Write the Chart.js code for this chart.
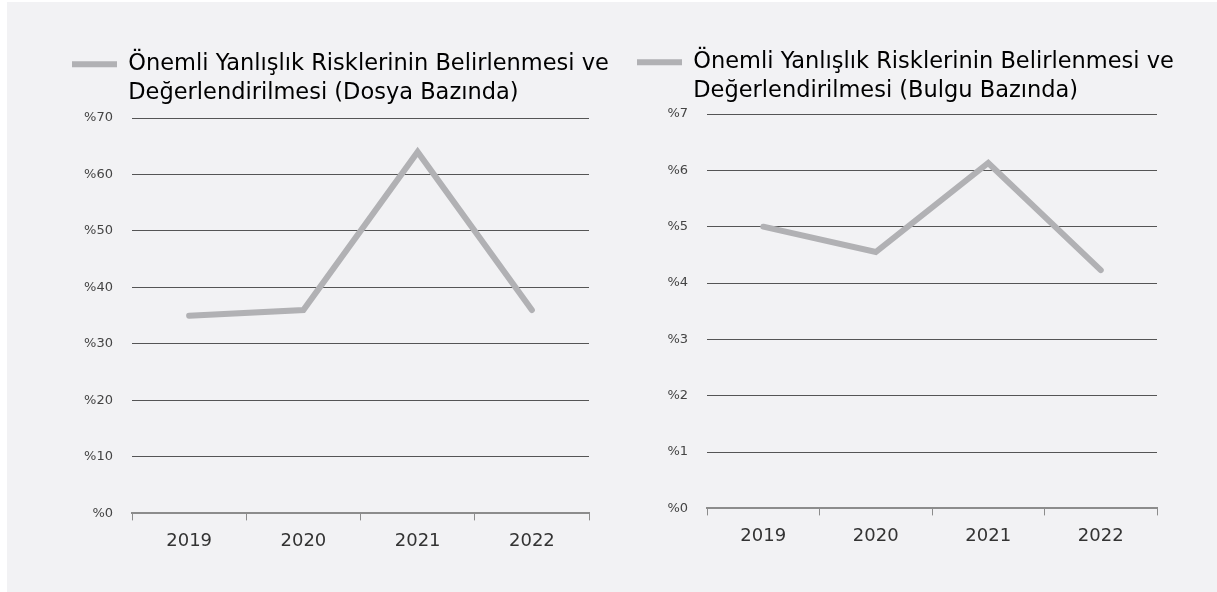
<!DOCTYPE html>
<html lang="tr">
<head>
  <meta charset="UTF-8">
  <title>Önemli Yanlışlık Riskleri</title>
  <style>
    html, body { margin: 0; padding: 0; background: #ffffff; }
    #page { position: absolute; left: 7px; top: 2px; width: 1210px; height: 590px; background: #f2f2f4; }
    .box { position: absolute; top: 0; height: 590px; }
    #box1 { left: 0; width: 610px; }
    #box2 { left: 610px; width: 600px; }
  </style>
</head>
<body>
  <div id="page">
    <div class="box" id="box1"><canvas id="chart1"></canvas></div>
    <div class="box" id="box2"><canvas id="chart2"></canvas></div>
  </div>

  <script src="https://cdn.jsdelivr.net/npm/chart.js"></script>
  <script>
    // data
    const years = ['2019', '2020', '2021', '2022'];
    const dosyaLabel = ['Önemli Yanlışlık Risklerinin Belirlenmesi ve', 'Değerlendirilmesi (Dosya Bazında)'];
    const dosyaValues = [35, 36, 64, 36];
    const bulguLabel = ['Önemli Yanlışlık Risklerinin Belirlenmesi ve', 'Değerlendirilmesi (Bulgu Bazında)'];
    const bulguValues = [5.0, 4.55, 6.13, 4.23];

    const FONT = 'DejaVu Sans';
    const lineColor = '#b1b1b4';

    // legend only measures one line, give it room for the second one,
    // and let it run past the plot's right edge
    const legendSpace = {
      id: 'legendSpace',
      afterInit(chart, args, opts) {
        const lg = chart.legend;
        if (!lg) return;
        const fit = lg.fit;
        lg.fit = function () {
          fit.call(this);
          this.height += opts.extra || 0;
        };
      },
      afterLayout(chart) {
        const lg = chart.legend;
        if (!lg) return;
        lg.right = chart.width;
        lg.width = chart.width - lg.left;
      }
    };

    function makeChart(id, label, values, yMax, yStep, yWidth, pad, extra) {
      const ctx = document.getElementById(id);
      return new Chart(ctx, {
        type: 'line',
        plugins: [legendSpace],
        data: {
          labels: years,
          datasets: [{
            label: label,
            data: values,
            borderColor: lineColor,
            backgroundColor: lineColor,
            borderWidth: 6,
            borderCapStyle: 'round',
            borderJoinStyle: 'miter',
            pointRadius: 0,
            tension: 0,
            fill: false
          }]
        },
        options: {
          responsive: true,
          maintainAspectRatio: false,
          animation: false,
          layout: { padding: pad },
          plugins: {
            tooltip: { enabled: false },
            legendSpace: { extra: extra },
            legend: {
              align: 'start',
              labels: {
                usePointStyle: true,
                pointStyle: 'line',
                pointStyleWidth: 45,
                color: '#333333',
                padding: 10,
                font: { family: FONT, size: 22.5, lineHeight: 1.29 },
                generateLabels: (chart) => [{
                  text: label,
                  strokeStyle: lineColor,
                  fillStyle: lineColor,
                  lineWidth: 6,
                  lineCap: 'butt',
                  pointStyle: 'line',
                  datasetIndex: 0
                }]
              }
            }
          },
          scales: {
            x: {
              offset: true,
              grid: {
                offset: true,
                drawOnChartArea: false,
                drawTicks: true,
                tickLength: 7,
                color: '#8c8c8c'
              },
              border: { color: '#8c8c8c', width: 2 },
              ticks: {
                color: '#333333',
                padding: 10,
                font: { family: FONT, size: 18 }
              }
            },
            y: {
              min: 0,
              max: yMax,
              afterFit: (scale) => { scale.width = yWidth; },
              grid: { drawTicks: false, color: '#555555', lineWidth: 1 },
              border: { display: false },
              ticks: {
                stepSize: yStep,
                padding: 19,
                color: '#444444',
                font: { family: FONT, size: 13 },
                callback: (v) => '%' + v
              }
            }
          }
        }
      });
    }

    makeChart('chart1', dosyaLabel, dosyaValues, 70, 10, 70, { left: 55, right: 28, top: 41, bottom: 30 }, 32.5);
    makeChart('chart2', bulguLabel, bulguValues, 7, 1, 80, { left: 10, right: 60, top: 39, bottom: 35 }, 30.5);
  </script>
</body>
</html>
